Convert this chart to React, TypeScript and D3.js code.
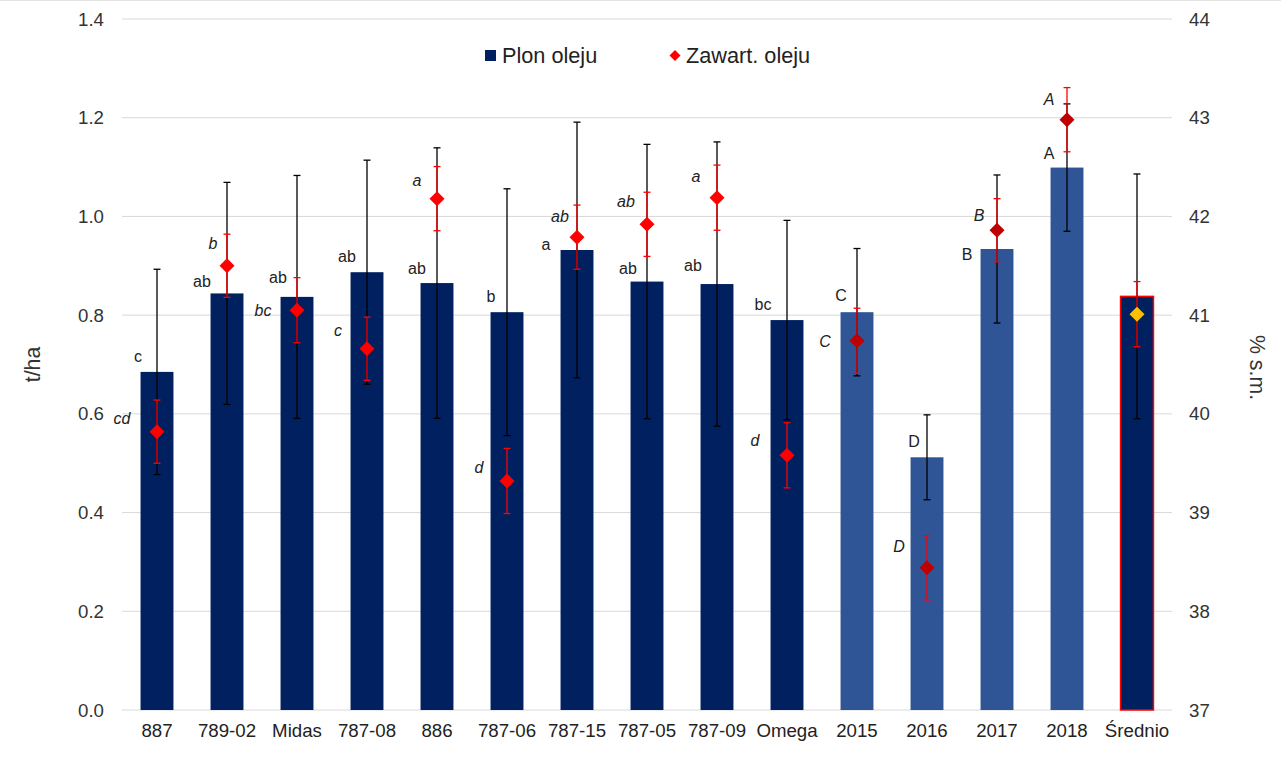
import React from "react";
import * as d3 from "d3";

// Cultivars and years with oil yield (t/ha) and oil content (% s.m.)
const categories = ["887", "789-02", "Midas", "787-08", "886", "787-06", "787-15", "787-05", "787-09", "Omega", "2015", "2016", "2017", "2018", "Średnio"];
const groups = ["cv", "cv", "cv", "cv", "cv", "cv", "cv", "cv", "cv", "cv", "year", "year", "year", "year", "mean"];

const yieldMean = [0.685, 0.844, 0.837, 0.887, 0.865, 0.806, 0.932, 0.868, 0.863, 0.79, 0.806, 0.512, 0.934, 1.099, 0.838];
const yieldErr = [0.208, 0.225, 0.246, 0.227, 0.274, 0.25, 0.259, 0.278, 0.288, 0.202, 0.129, 0.086, 0.15, 0.129, 0.248];
const yieldLetters = ["c", "ab", "ab", "ab", "ab", "b", "a", "ab", "ab", "bc", "C", "D", "B", "A", ""];

const oilMean = [39.82, 41.5, 41.05, 40.66, 42.18, 39.32, 41.79, 41.92, 42.19, 39.58, 40.74, 38.44, 41.86, 42.98, 41.01];
const oilErr = [0.32, 0.32, 0.33, 0.32, 0.325, 0.33, 0.325, 0.325, 0.33, 0.33, 0.33, 0.325, 0.32, 0.325, 0.33];
const oilLetters = ["cd", "b", "bc", "c", "a", "d", "ab", "ab", "a", "d", "C", "D", "B", "A", ""];

const leftTicks = [0, 0.2, 0.4, 0.6, 0.8, 1.0, 1.2, 1.4];
const rightTicks = [37, 38, 39, 40, 41, 42, 43, 44];

// Hand-placed offsets of the significance letters relative to their marks
const yieldLabelOffset: [number, number][] = [
  [-19, -16], [-25, -12], [-19, -19], [-20, -16], [-20, -15], [-16, -16], [-31, -6],
  [-19, -13], [-24, -19], [-24, -16], [-16, -17], [-13, -16], [-30, 5], [-18, -14], [0, 0],
];
const oilLabelOffset: [number, number][] = [
  [-35, -13], [-14, -22], [-34, 0], [-29, -18], [-20, -18], [-28, -14], [-17, -21],
  [-21, -23], [-21, -21], [-32, -15], [-32, 1], [-28, -21], [-18, -15], [-18, -20], [0, 0],
];

const W = 1281;
const H = 757;
const FONT = "'Liberation Sans', Arial, sans-serif";

const barFill: Record<string, string> = { cv: "#002060", year: "#2F5597", mean: "#002060" };
const diamondFill: Record<string, string> = { cv: "#FF0000", year: "#C00000", mean: "#FFC000" };

function diamond(cx: number, cy: number, r: number) {
  return `M${cx},${cy - r}L${cx + r},${cy}L${cx},${cy + r}L${cx - r},${cy}Z`;
}

export default function App() {
  const x = d3.scaleBand<string>().domain(categories).range([122, 1172]).paddingInner(0.53).paddingOuter(0.265);
  const yL = d3.scaleLinear().domain([0, 1.4]).range([710, 19]);
  const yR = d3.scaleLinear().domain([37, 44]).range([710, 19]);
  const bw = x.bandwidth();
  const cx = (c: string) => (x(c) as number) + bw / 2;
  const cap = 3.5;
  const plotMid = (yL(0) + yL(1.4)) / 2;

  return (
    <svg width={W} height={H} style={{ position: "absolute", left: 0, top: 0, background: "#fff" }} fontFamily={FONT}>
      <rect x={0} y={0} width={W} height={H} fill="#fff" />
      <line x1={0} x2={W} y1={0.5} y2={0.5} stroke="#e3e3e3" />

      {/* gridlines */}
      {leftTicks.map((t) => (
        <line key={"g" + t} x1={122} x2={1172} y1={yL(t)} y2={yL(t)} stroke="#d9d9d9" strokeWidth={1} />
      ))}

      {/* left axis labels */}
      {leftTicks.map((t) => (
        <text key={"l" + t} x={104} y={yL(t)} dy="0.35em" textAnchor="end" fontSize={18.67} fill="#333">
          {d3.format(".1f")(t)}
        </text>
      ))}
      {/* right axis labels */}
      {rightTicks.map((t) => (
        <text key={"r" + t} x={1189} y={yR(t)} dy="0.35em" textAnchor="start" fontSize={18.67} fill="#333">
          {t}
        </text>
      ))}

      {/* axis titles, centred on the plot area */}
      <text transform={`translate(33,${plotMid}) rotate(-90)`} textAnchor="middle" dy="0.35em" fontSize={21.3} fill="#333">
        t/ha
      </text>
      <text transform={`translate(1257,${plotMid + 3}) rotate(90)`} textAnchor="middle" dy="0.35em" fontSize={21.3} fill="#333">
        % s.m.
      </text>

      {/* category labels */}
      {categories.map((c) => (
        <text key={"x" + c} x={cx(c)} y={737} textAnchor="middle" fontSize={18.67} fill="#222">
          {c}
        </text>
      ))}

      {/* yield bars */}
      {categories.map((c, i) => (
        <rect
          key={"b" + c}
          x={x(c)}
          y={yL(yieldMean[i])}
          width={bw}
          height={yL(0) - yL(yieldMean[i])}
          fill={barFill[groups[i]]}
          stroke={groups[i] === "mean" ? "#FF0000" : "none"}
          strokeWidth={groups[i] === "mean" ? 1.5 : 0}
        />
      ))}

      {/* yield error bars */}
      {categories.map((c, i) => {
        const px = cx(c);
        const y1 = yL(yieldMean[i] + yieldErr[i]);
        const y2 = yL(yieldMean[i] - yieldErr[i]);
        return (
          <g key={"ey" + c} stroke="#000" strokeWidth={1.3}>
            <line x1={px} x2={px} y1={y1} y2={y2} />
            <line x1={px - cap} x2={px + cap} y1={y1} y2={y1} />
            <line x1={px - cap} x2={px + cap} y1={y2} y2={y2} />
          </g>
        );
      })}

      {/* oil content error bars */}
      {categories.map((c, i) => {
        const px = cx(c);
        const y1 = yR(oilMean[i] + oilErr[i]);
        const y2 = yR(oilMean[i] - oilErr[i]);
        return (
          <g key={"eo" + c} stroke="#FF0000" strokeWidth={1.3}>
            <line x1={px} x2={px} y1={y1} y2={y2} />
            <line x1={px - cap} x2={px + cap} y1={y1} y2={y1} />
            <line x1={px - cap} x2={px + cap} y1={y2} y2={y2} />
          </g>
        );
      })}

      {/* oil content markers */}
      {categories.map((c, i) => (
        <path key={"d" + c} d={diamond(cx(c), yR(oilMean[i]), 7.5)} fill={diamondFill[groups[i]]} />
      ))}

      {/* significance letters: yield */}
      {categories.map((c, i) =>
        yieldLetters[i] ? (
          <text
            key={"ly" + c}
            x={cx(c) + yieldLabelOffset[i][0]}
            y={yL(yieldMean[i]) + yieldLabelOffset[i][1]}
            dy="0.35em"
            textAnchor="middle"
            fontSize={16}
            fill="#222"
          >
            {yieldLetters[i]}
          </text>
        ) : null
      )}
      {/* significance letters: oil content */}
      {categories.map((c, i) =>
        oilLetters[i] ? (
          <text
            key={"lo" + c}
            x={cx(c) + oilLabelOffset[i][0]}
            y={yR(oilMean[i]) + oilLabelOffset[i][1]}
            dy="0.35em"
            textAnchor="middle"
            fontSize={16}
            fontStyle="italic"
            fill="#222"
          >
            {oilLetters[i]}
          </text>
        ) : null
      )}

      {/* legend */}
      <rect x={485} y={50} width={11} height={11} fill="#002060" />
      <text x={502} y={63} fontSize={21.7} fill="#222">
        Plon oleju
      </text>
      <path d={diamond(675, 55.5, 5.5)} fill="#FF0000" />
      <text x={686} y={63} fontSize={21.7} fill="#222">
        Zawart. oleju
      </text>
    </svg>
  );
}
